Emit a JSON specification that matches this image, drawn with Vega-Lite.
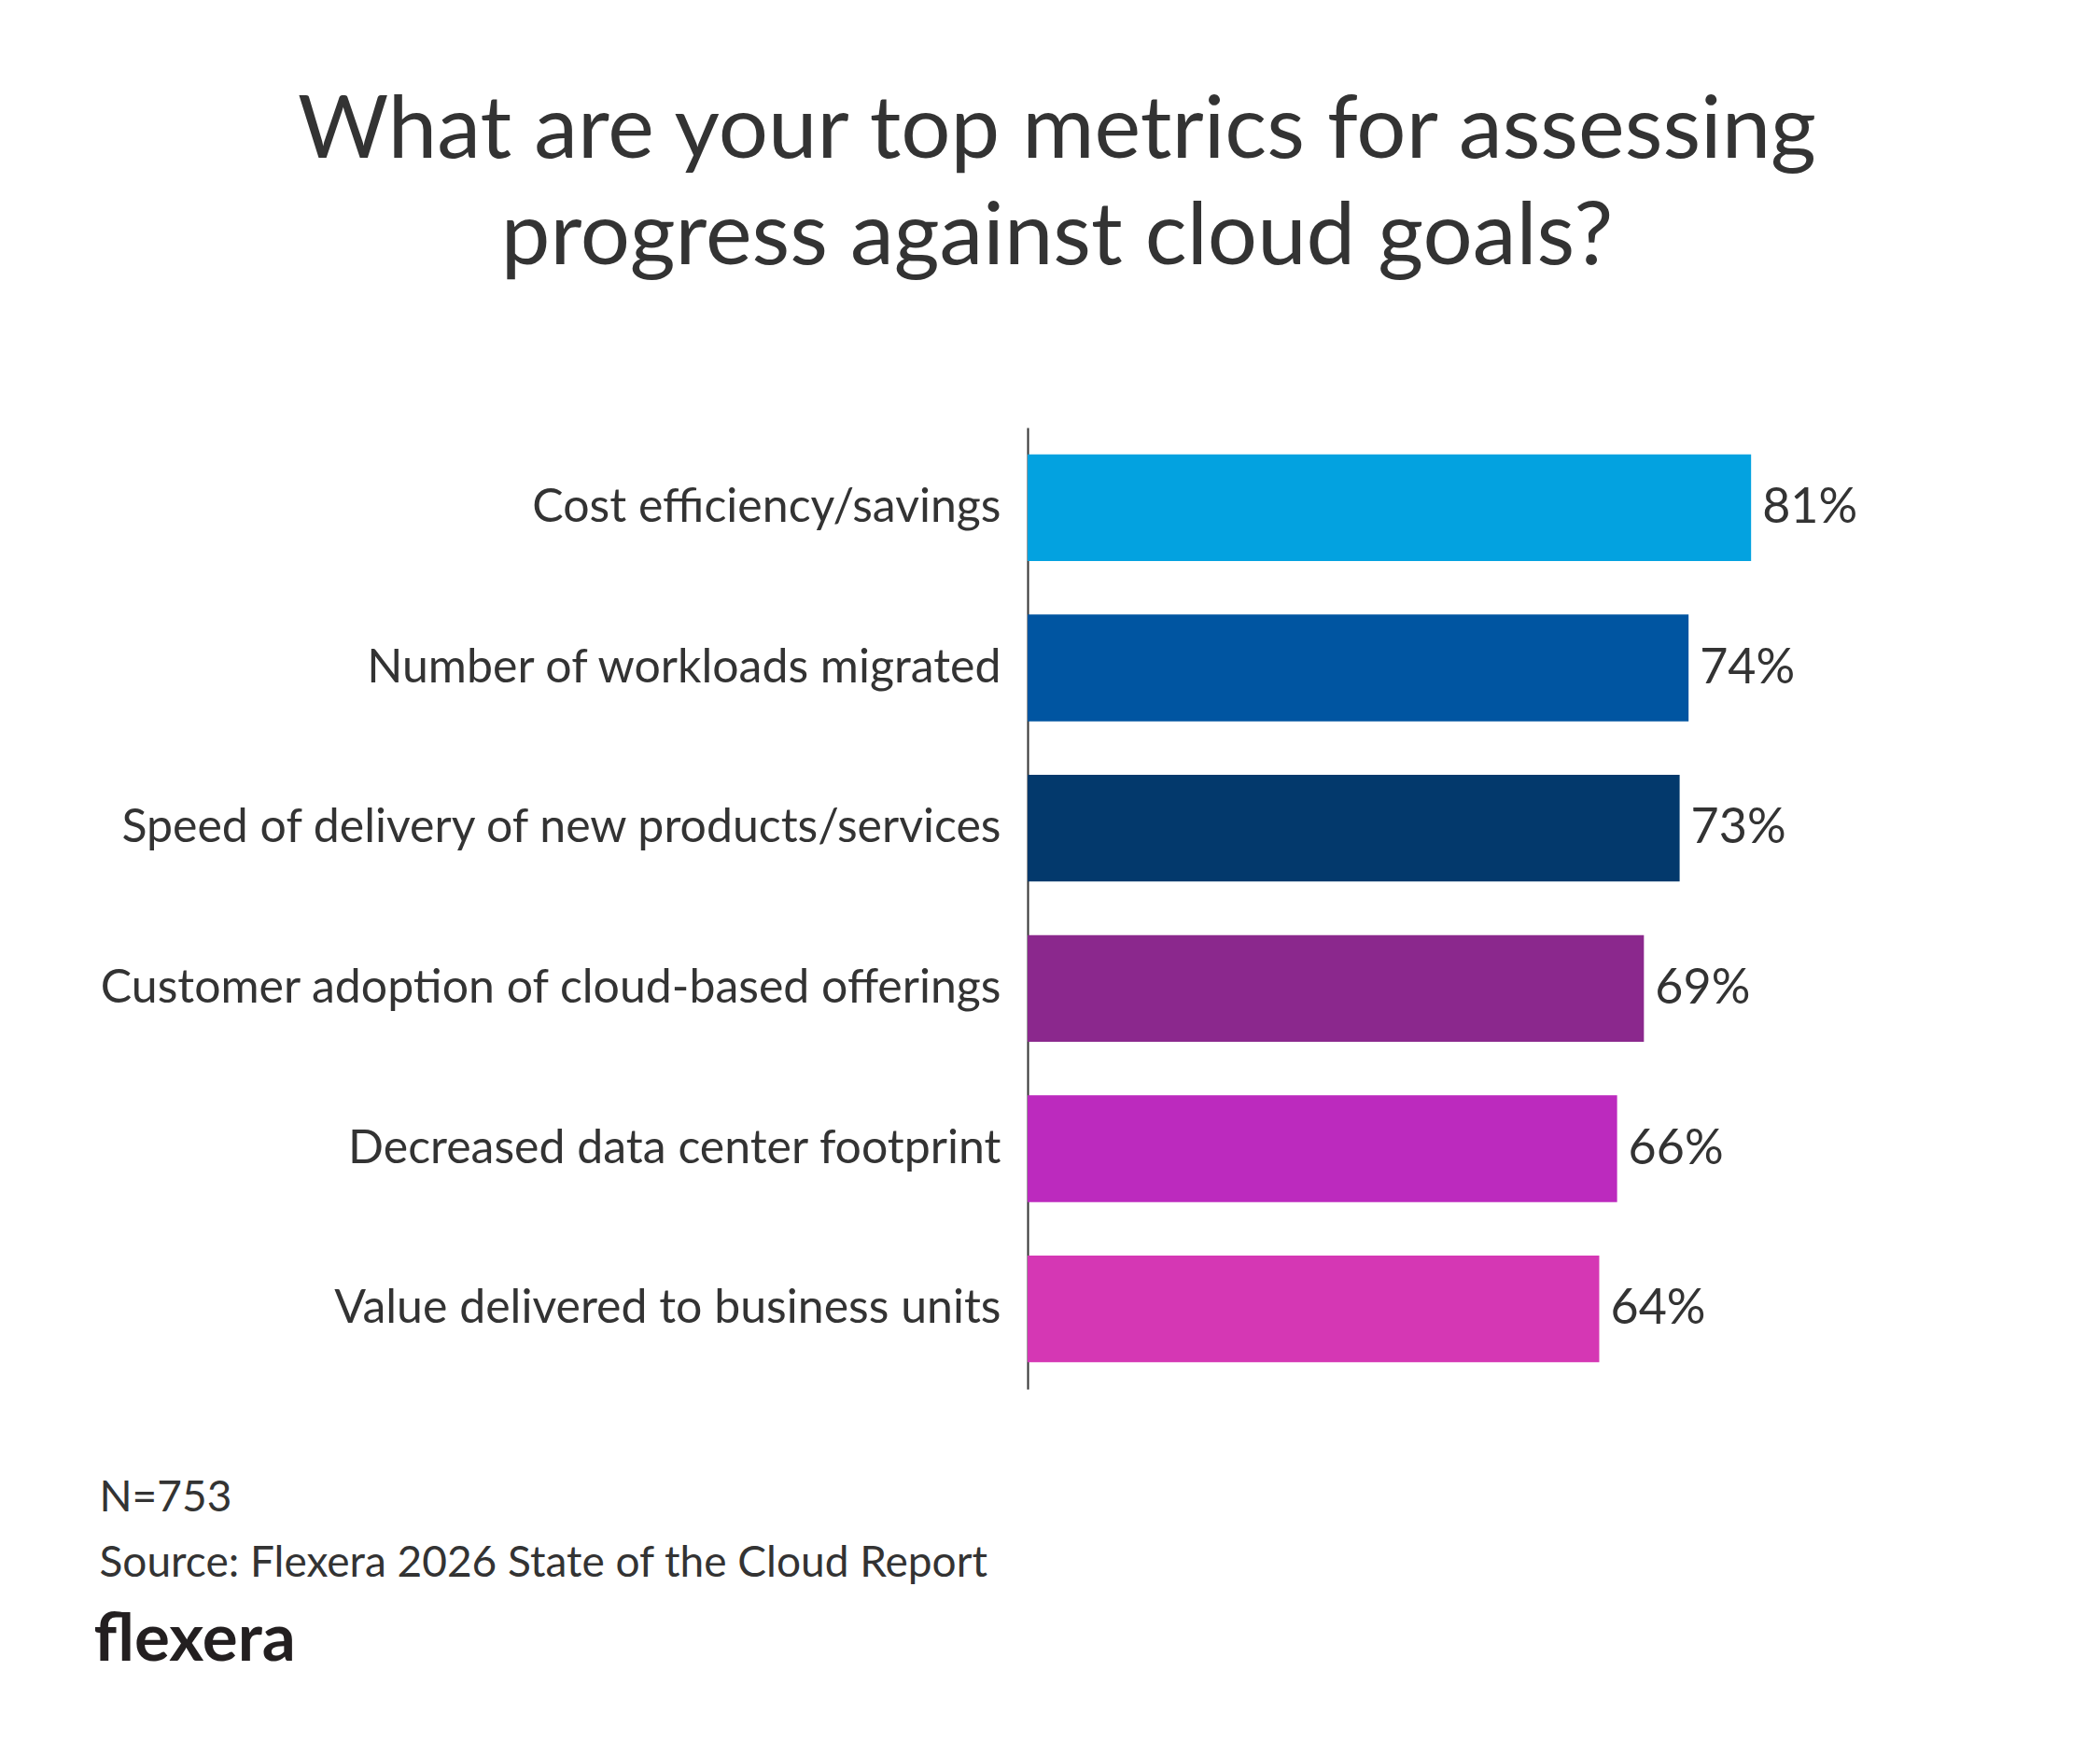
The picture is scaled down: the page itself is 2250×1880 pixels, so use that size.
{
  "$schema": "https://vega.github.io/schema/vega-lite/v6.json",
  "background": "white",
  "autosize": "none",
  "padding": {"left": 1101, "top": 458, "right": 192, "bottom": 392},
  "width": 957,
  "height": 1030,
  "title": {
    "text": ["What are your top metrics for assessing", "progress against cloud goals?"],
    "anchor": "middle",
    "frame": "group",
    "align": "center",
    "baseline": "alphabetic",
    "dx": -447,
    "offset": 81,
    "fontSize": 94,
    "fontWeight": "normal",
    "lineHeight": 114,
    "color": "#333333",
    "font": "Lato"
  },
  "data": {
    "values": [
      {"metric": "Cost efficiency/savings", "share": 0.81},
      {"metric": "Number of workloads migrated", "share": 0.74},
      {"metric": "Speed of delivery of new products/services", "share": 0.73},
      {"metric": "Customer adoption of cloud-based offerings", "share": 0.69},
      {"metric": "Decreased data center footprint", "share": 0.66},
      {"metric": "Value delivered to business units", "share": 0.64}
    ]
  },
  "encoding": {
    "y": {
      "field": "metric",
      "type": "nominal",
      "sort": null,
      "scale": {"paddingInner": 0.334, "paddingOuter": 0.167},
      "axis": {
        "title": "flexera",
        "titleAngle": 0,
        "titleX": -1001,
        "titleY": 1320,
        "titleAlign": "left",
        "titleBaseline": "alphabetic",
        "titleFont": "Lato",
        "titleFontSize": 71,
        "titleFontWeight": "bold",
        "titleColor": "#231f20",
        "domain": true,
        "domainColor": "#333333",
        "domainWidth": 2,
        "ticks": false,
        "labelPadding": 29,
        "labelLimit": 1200,
        "labelFont": "Lato",
        "labelFontSize": 50,
        "labelColor": "#333333"
      }
    },
    "x": {
      "field": "share",
      "type": "quantitative",
      "scale": {"domain": [0, 1]},
      "axis": {
        "title": ["N=753", "Source: Flexera 2026 State of the Cloud Report"],
        "titleX": -995,
        "titleY": 130,
        "titleAlign": "left",
        "titleAnchor": "start",
        "titleBaseline": "alphabetic",
        "titleLineHeight": 70,
        "titleFont": "Lato",
        "titleFontSize": 46,
        "titleFontWeight": "normal",
        "titleColor": "#333333",
        "domain": false,
        "ticks": false,
        "labels": false,
        "grid": false
      }
    }
  },
  "layer": [
    {
      "mark": {"type": "bar"},
      "encoding": {
        "color": {
          "field": "metric",
          "type": "nominal",
          "legend": null,
          "scale": {
            "domain": ["Cost efficiency/savings", "Number of workloads migrated", "Speed of delivery of new products/services", "Customer adoption of cloud-based offerings", "Decreased data center footprint", "Value delivered to business units"],
            "range": ["#03A2E0", "#0055A1", "#03396C", "#8B288D", "#BC2ABE", "#D537B4"]
          }
        }
      }
    },
    {
      "mark": {"type": "text", "align": "left", "baseline": "middle", "dx": 12, "font": "Lato", "fontSize": 52, "color": "#333333"},
      "encoding": {
        "text": {"field": "share", "type": "quantitative", "format": ".0%"}
      }
    }
  ],
  "config": {"view": {"stroke": null}}
}
